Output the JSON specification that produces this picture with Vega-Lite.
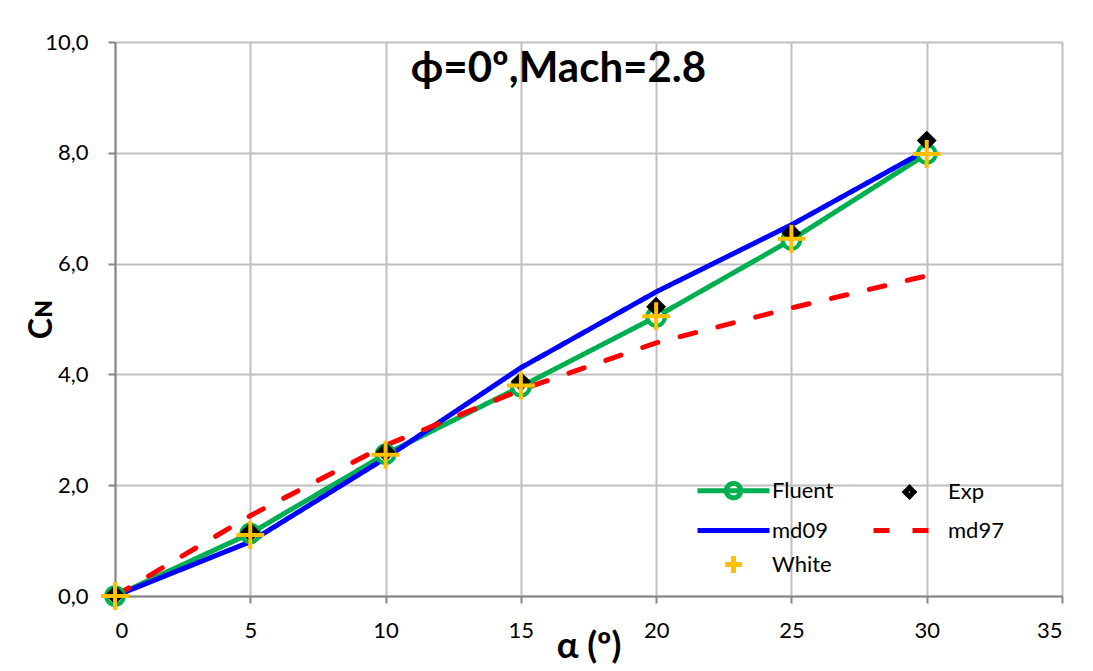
{
  "$schema": "https://vega.github.io/schema/vega-lite/v6.json",
  "autosize": {"type": "none"},
  "width": 947,
  "height": 554,
  "padding": {"left": 115, "top": 42, "right": 31, "bottom": 75},
  "background": "white",
  "title": {
    "text": "ϕ=0º,Mach=2.8",
    "font": "Lato",
    "fontSize": 42,
    "fontWeight": "bold",
    "color": "black",
    "anchor": "middle",
    "frame": "group",
    "dx": -30,
    "offset": -102,
    "baseline": "bottom"
  },
  "data": {
    "values": [
      {"series": "Fluent", "alpha": 0, "cn": 0},
      {"series": "Fluent", "alpha": 5, "cn": 1.13},
      {"series": "Fluent", "alpha": 10, "cn": 2.56},
      {"series": "Fluent", "alpha": 15, "cn": 3.78},
      {"series": "Fluent", "alpha": 20, "cn": 5.04},
      {"series": "Fluent", "alpha": 25, "cn": 6.43},
      {"series": "Fluent", "alpha": 30, "cn": 7.98},
      {"series": "Exp", "alpha": 0, "cn": 0.02},
      {"series": "Exp", "alpha": 5, "cn": 1.15},
      {"series": "Exp", "alpha": 10, "cn": 2.6},
      {"series": "Exp", "alpha": 15, "cn": 3.87},
      {"series": "Exp", "alpha": 20, "cn": 5.22},
      {"series": "Exp", "alpha": 25, "cn": 6.55},
      {"series": "Exp", "alpha": 30, "cn": 8.22},
      {"series": "md09", "alpha": 0, "cn": 0},
      {"series": "md09", "alpha": 5, "cn": 0.98},
      {"series": "md09", "alpha": 10, "cn": 2.49},
      {"series": "md09", "alpha": 15, "cn": 4.12},
      {"series": "md09", "alpha": 20, "cn": 5.49},
      {"series": "md09", "alpha": 25, "cn": 6.7},
      {"series": "md09", "alpha": 30, "cn": 8.05},
      {"series": "md97", "alpha": 0, "cn": 0},
      {"series": "md97", "alpha": 5, "cn": 1.45},
      {"series": "md97", "alpha": 10, "cn": 2.72},
      {"series": "md97", "alpha": 15, "cn": 3.72},
      {"series": "md97", "alpha": 20, "cn": 4.57},
      {"series": "md97", "alpha": 25, "cn": 5.2},
      {"series": "md97", "alpha": 30, "cn": 5.78},
      {"series": "White", "alpha": 0, "cn": 0},
      {"series": "White", "alpha": 5, "cn": 1.1},
      {"series": "White", "alpha": 10, "cn": 2.55},
      {"series": "White", "alpha": 15, "cn": 3.8},
      {"series": "White", "alpha": 20, "cn": 5.05},
      {"series": "White", "alpha": 25, "cn": 6.45},
      {"series": "White", "alpha": 30, "cn": 7.98}
    ]
  },
  "config": {
    "legend": {
      "title": null,
      "orient": "none",
      "legendX": 596,
      "legendY": 426,
      "columns": 2,
      "direction": "horizontal",
      "columnPadding": 29,
      "rowPadding": 0,
      "labelFont": "Lato",
      "labelFontSize": 22,
      "labelColor": "black",
      "labelOffset": 16,
      "symbolSize": 1600,
      "symbolStrokeWidth": 5,
      "symbolOpacity": 1,
      "symbolFillColor": "transparent"
    }
  },
  "encoding": {
    "x": {
      "field": "alpha", "type": "quantitative",
      "scale": {"domain": [0, 35], "nice": false, "zero": false},
      "axis": {
        "title": "α (º)",
        "values": [0, 5, 10, 15, 20, 25, 30, 35],
        "titleFont": "Lato", "titleFontSize": 36, "titleFontWeight": "bold", "titleColor": "black",
        "titlePadding": -12,
        "labelFont": "Lato", "labelFontSize": 22, "labelColor": "black", "labelPadding": 17,
        "domainColor": "#868686", "domainWidth": 2,
        "tickColor": "#868686", "tickWidth": 2, "tickSize": 7,
        "gridColor": "#bfbfbf", "gridWidth": 2
      }
    },
    "y": {
      "field": "cn", "type": "quantitative",
      "scale": {"domain": [0, 10], "nice": false},
      "axis": {
        "title": "Cɴ",
        "values": [0, 2, 4, 6, 8, 10],
        "labelExpr": "replace(format(datum.value, '.1f'), '.', ',')",
        "titleFont": "Lato", "titleFontSize": 32, "titleFontWeight": "bold", "titleColor": "black",
        "titlePadding": -14,
        "labelFont": "Lato", "labelFontSize": 22, "labelColor": "black", "labelPadding": 20,
        "domainColor": "#868686", "domainWidth": 2,
        "tickColor": "#868686", "tickWidth": 2, "tickSize": 7,
        "gridColor": "#bfbfbf", "gridWidth": 2
      }
    },
    "color": {
      "field": "series", "type": "nominal",
      "scale": {
        "domain": ["Fluent", "Exp", "md09", "md97", "White"],
        "range": ["#00b050", "#000000", "#0000ff", "#ff0000", "#ffc000"]
      }
    }
  },
  "layer": [
    {
      "transform": [{"filter": "datum.series === 'Fluent' || datum.series === 'md09' || datum.series === 'md97'"}],
      "mark": {"type": "line", "strokeWidth": 5, "strokeCap": "round"},
      "encoding": {
        "strokeDash": {
          "field": "series", "type": "nominal",
          "scale": {
            "domain": ["Fluent", "Exp", "md09", "md97", "White"],
            "range": [[1, 0], [1, 0], [1, 0], [16, 23], [1, 0]]
          }
        }
      }
    },
    {
      "transform": [{"filter": "datum.series === 'Fluent'"}],
      "mark": {"type": "point", "shape": "circle", "filled": false, "fill": "white", "fillOpacity": 1, "opacity": 1, "size": 314, "strokeWidth": 4}
    },
    {
      "transform": [{"filter": "datum.series === 'Exp'"}],
      "mark": {"type": "point", "filled": false, "opacity": 1, "size": 1520, "strokeWidth": 8, "strokeJoin": "miter"},
      "encoding": {
        "shape": {
          "field": "series", "type": "nominal",
          "scale": {
            "domain": ["Fluent", "Exp", "md09", "md97", "White"],
            "range": [
              "M-1.8,0L1.8,0M-0.36,0A0.36,0.36,0,1,1,0.36,0A0.36,0.36,0,1,1,-0.36,0",
              "M0,-0.22L0.22,0L0,0.22L-0.22,0Z",
              "M-1.8,0L1.8,0",
              "M-1.8,0L1.8,0",
              "M-0.42,0L0.42,0M0,-0.42L0,0.42"
            ]
          }
        }
      }
    },
    {
      "transform": [{"filter": "datum.series === 'White'"}],
      "mark": {"type": "point", "filled": false, "opacity": 1, "size": 4444, "strokeWidth": 4},
      "encoding": {
        "shape": {"field": "series", "type": "nominal"}
      }
    }
  ]
}
